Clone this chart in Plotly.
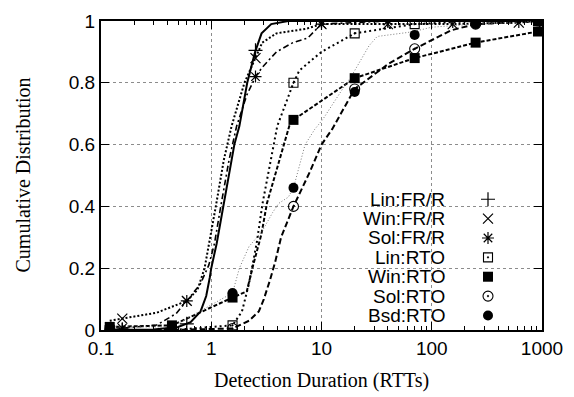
import plotly.graph_objects as go

# ---------------- data ----------------
lin_fr_x = [0.12, 0.3, 0.5, 0.65, 0.8, 0.9, 0.97, 1.0, 1.12, 1.29, 1.62, 1.8, 2.12, 2.5, 2.86, 3.5, 5, 1000]
lin_fr_y = [0, 0.002, 0.01, 0.025, 0.06, 0.11, 0.17, 0.2, 0.28, 0.4, 0.6, 0.66, 0.8, 0.9, 0.96, 0.99, 1.0, 1.0]
lin_fr_mx = [0.156, 0.6, 2.52, 10, 40, 155, 616]
lin_fr_my = [0.0, 0.02, 0.905, 1.0, 1.0, 1.0, 1.0]

win_fr_x = [0.12, 0.156, 0.32, 0.6, 0.75, 0.87, 0.96, 1.1, 1.3, 1.53, 2.0, 2.52, 2.9, 3.9, 7.3, 10, 155, 616, 1000]
win_fr_y = [0.03, 0.037, 0.056, 0.094, 0.13, 0.2, 0.28, 0.4, 0.55, 0.66, 0.8, 0.88, 0.93, 0.96, 0.975, 0.99, 0.99, 0.995, 1.0]
win_fr_mx = [0.156, 0.6, 2.52, 10, 40, 155, 616]
win_fr_my = [0.037, 0.094, 0.88, 0.99, 0.99, 0.99, 0.995]

sol_fr_x = [0.12, 0.156, 0.32, 0.48, 0.6, 0.8, 0.95, 1.07, 1.22, 1.45, 1.7, 2.1, 2.52, 2.9, 3.9, 5.5, 7.5, 10, 40, 1000]
sol_fr_y = [0.0, 0.006, 0.016, 0.053, 0.094, 0.15, 0.21, 0.28, 0.4, 0.55, 0.66, 0.76, 0.82, 0.85, 0.9, 0.93, 0.945, 0.99, 1.0, 1.0]
sol_fr_mx = [0.156, 0.6, 2.52, 10, 40]
sol_fr_my = [0.006, 0.094, 0.82, 0.99, 1.0]

lin_rto_x = [0.12, 0.44, 1.56, 1.9, 2.2, 2.58, 2.92, 3.97, 5.57, 6.3, 10, 20, 70, 250, 1000]
lin_rto_y = [0.0, 0.0, 0.015, 0.06, 0.15, 0.28, 0.41, 0.66, 0.8, 0.84, 0.9, 0.96, 0.99, 1.0, 1.0]
lin_rto_mx = [0.12, 0.44, 1.56, 5.57, 20, 70, 250, 920]
lin_rto_my = [0.0, 0.0, 0.015, 0.8, 0.96, 0.99, 1.0, 1.0]

win_rto_x = [0.12, 0.44, 1.56, 2.1, 2.4, 2.85, 3.2, 5.1, 5.57, 20, 70, 250, 920, 1000]
win_rto_y = [0.01, 0.015, 0.105, 0.125, 0.21, 0.31, 0.41, 0.66, 0.68, 0.815, 0.88, 0.93, 0.966, 1.0]
win_rto_mx = [0.12, 0.44, 1.56, 5.57, 20, 70, 250, 920, 920]
win_rto_my = [0.01, 0.015, 0.105, 0.68, 0.815, 0.88, 0.93, 0.966, 1.0]

sol_rto_x = [0.12, 0.44, 1.56, 2.2, 2.7, 3.0, 3.4, 3.8, 4.3, 5.0, 5.57, 7.8, 10, 12.5, 16.2, 20, 40, 70, 150, 250, 1000]
sol_rto_y = [0.0, 0.0, 0.005, 0.03, 0.06, 0.1, 0.16, 0.22, 0.3, 0.36, 0.4, 0.51, 0.6, 0.65, 0.72, 0.78, 0.86, 0.91, 0.97, 0.99, 1.0]
sol_rto_mx = [0.12, 0.44, 1.56, 5.57, 20, 70, 250, 920]
sol_rto_my = [0.0, 0.0, 0.005, 0.4, 0.78, 0.91, 0.99, 1.0]

bsd_rto_x = [0.12, 0.44, 1.56, 1.8, 2.2, 2.9, 3.6, 4.1, 5.0, 5.57, 7.1, 8.7, 10.2, 13.6, 16.2, 18.6, 27, 32, 54, 67, 100, 250, 1000]
bsd_rto_y = [0.01, 0.01, 0.12, 0.2, 0.27, 0.32, 0.38, 0.41, 0.43, 0.46, 0.6, 0.65, 0.68, 0.75, 0.79, 0.82, 0.92, 0.95, 0.96, 0.965, 0.98, 0.99, 1.0]
bsd_rto_mx = [0.12, 0.44, 1.56, 5.57, 20, 70, 250, 920]
bsd_rto_my = [0.01, 0.01, 0.12, 0.46, 0.77, 0.955, 0.99, 1.0]

labels = ["Lin:FR/R", "Win:FR/R", "Sol:FR/R", "Lin:RTO", "Win:RTO", "Sol:RTO", "Bsd:RTO"]
x_ticks = [0.1, 1, 10, 100, 1000]
x_tick_text = ["0.1", "1", "10", "100", "1000"]
y_ticks = [0, 0.2, 0.4, 0.6, 0.8, 1.0]
y_tick_text = ["0", "0.2", "0.4", "0.6", "0.8", "1"]
x_title = "Detection Duration (RTTs)"
y_title = "Cumulative Distribution"

# ---------------- styles ----------------
K = "black"
series = [
    (lin_fr_x, lin_fr_y, lin_fr_mx, lin_fr_my, dict(color=K, width=2, dash="solid"),
     dict(symbol="cross-thin-open", size=10, color=K, line=dict(color=K, width=1.2))),
    (win_fr_x, win_fr_y, win_fr_mx, win_fr_my, dict(color=K, width=2, dash="2px,2px"),
     dict(symbol="x-thin-open", size=10, color=K, line=dict(color=K, width=1.2))),
    (sol_fr_x, sol_fr_y, sol_fr_mx, sol_fr_my, dict(color=K, width=1.6, dash="6px,3px,2px,3px"),
     dict(symbol="asterisk-open", size=10, color=K, line=dict(color=K, width=1.2))),
    (lin_rto_x, lin_rto_y, lin_rto_mx, lin_rto_my, dict(color=K, width=2, dash="2px,3px"),
     dict(symbol="square-open-dot", size=9, color=K, line=dict(color=K, width=1.1))),
    (win_rto_x, win_rto_y, win_rto_mx, win_rto_my, dict(color=K, width=2, dash="4px,2px"),
     dict(symbol="square", size=10, color=K, line=dict(color=K, width=0))),
    (sol_rto_x, sol_rto_y, sol_rto_mx, sol_rto_my, dict(color=K, width=2, dash="6px,3px"),
     dict(symbol="circle-open-dot", size=10, color=K, line=dict(color=K, width=1.1))),
    (bsd_rto_x, bsd_rto_y, bsd_rto_mx, bsd_rto_my, dict(color="#7a7a7a", width=1, dash="1px,2px"),
     dict(symbol="circle", size=10, color=K, line=dict(color=K, width=0))),
]

fig = go.Figure()
for (lx, ly, mx, my, lst, mst) in series:
    fig.add_trace(go.Scatter(x=lx, y=ly, mode="lines", line=lst, showlegend=False, hoverinfo="skip"))
for (lx, ly, mx, my, lst, mst) in series:
    fig.add_trace(go.Scatter(x=mx, y=my, mode="markers", marker=mst, showlegend=False, hoverinfo="skip"))

# ---------------- manual legend (text right-aligned, symbol to its right) ----------------
plot_l, plot_r, plot_t, plot_b = 101, 542, 11, 330
W, H = plot_r - plot_l, plot_b - plot_t
row0, row_step = 195, 20
text_right_px, sym_px = 447, 488
leg_font = dict(family="Liberation Sans, Arial", size=19, color=K)
for i, (lab, s) in enumerate(zip(labels, series)):
    yy = (plot_b - (row0 + i * row_step)) / H
    fig.add_trace(go.Scatter(x=[(sym_px - plot_l) / W], y=[yy], xaxis="x2", yaxis="y2", mode="markers",
                             marker=s[5], showlegend=False, hoverinfo="skip", cliponaxis=False))
    fig.add_annotation(x=(text_right_px - plot_l) / W, y=yy, xref="paper", yref="paper",
                       text=lab, showarrow=False, xanchor="right", yanchor="middle", font=leg_font)

# axis titles as annotations for exact placement
title_font = dict(family="Liberation Serif, Times New Roman", size=20, color=K)
fig.add_annotation(x=0.5, y=(plot_b - 382) / H, xref="paper", yref="paper", text=x_title,
                   showarrow=False, xanchor="center", yanchor="middle", font=title_font)
fig.add_annotation(x=(22 - plot_l) / W, y=0.5, xref="paper", yref="paper", text=y_title,
                   showarrow=False, xanchor="center", yanchor="middle", textangle=-90, font=title_font)

minor_x = [k * 10 ** e for e in range(-1, 3) for k in range(2, 10)]
tick_font = dict(family="Liberation Sans, Arial", size=19, color=K)

fig.update_layout(
    width=574, height=397,
    margin=dict(l=plot_l, r=574 - plot_r, t=plot_t, b=397 - plot_b),
    paper_bgcolor="white", plot_bgcolor="white",
    xaxis=dict(type="log", range=[-1, 3], tickmode="array", tickvals=x_ticks, ticktext=x_tick_text,
               ticks="inside", ticklen=8, tickwidth=1, tickcolor=K,
               showline=True, linewidth=2, linecolor=K, mirror="ticks",
               showgrid=True, gridcolor="#8c8c8c", griddash="dot", gridwidth=1,
               minor=dict(tickmode="array", tickvals=minor_x, ticks="inside", ticklen=4,
                          tickcolor=K, tickwidth=1, showgrid=False),
               tickfont=tick_font, zeroline=False),
    yaxis=dict(range=[0, 1], tickmode="array", tickvals=y_ticks, ticktext=y_tick_text,
               ticks="inside", ticklen=8, tickwidth=1, tickcolor=K,
               showline=True, linewidth=2, linecolor=K, mirror="ticks",
               showgrid=True, gridcolor="#8c8c8c", griddash="dot", gridwidth=1,
               tickfont=tick_font, zeroline=False),
    xaxis2=dict(overlaying="x", range=[0, 1], visible=False),
    yaxis2=dict(overlaying="y", range=[0, 1], visible=False),
)

fig.write_html("out.html")
